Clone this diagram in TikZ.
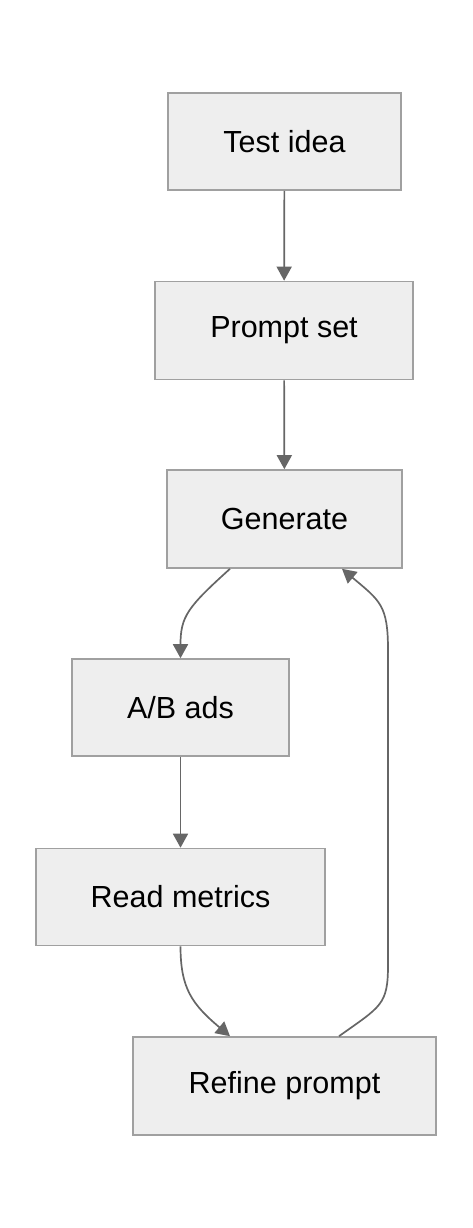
\documentclass[tikz,border=0pt]{standalone}
\usepackage{fontspec}
\setmainfont{Liberation Sans}
\usetikzlibrary{arrows.meta}
\definecolor{boxfill}{HTML}{EEEEEE}
\definecolor{boxline}{HTML}{A0A0A0}
\definecolor{arrcol}{HTML}{666666}
\tikzset{
  box/.style={draw=boxline, fill=boxfill, line width=1.6pt, rectangle, inner sep=0pt,
    font=\fontsize{30.5}{35}\selectfont, text=black},
  arr/.style={draw=arrcol, line width=1.7pt, -{Triangle[length=14pt,width=15pt]}}
}
\begin{document}
\begin{tikzpicture}[x=1pt,y=-1pt]
\useasboundingbox (0,0) rectangle (472,1228);
\node[box, minimum width=233pt, minimum height=97pt] (test) at (284.5,141.5) {Test idea};
\node[box, minimum width=258pt, minimum height=98pt] (prompt) at (284,330.5) {Prompt set};
\node[box, minimum width=235pt, minimum height=98pt] (gen) at (284.5,519) {Generate};
\node[box, minimum width=217pt, minimum height=97pt] (ab) at (180.5,707.5) {A/B ads};
\node[box, minimum width=289pt, minimum height=97pt] (read) at (180.5,897) {Read metrics};
\node[box, minimum width=303pt, minimum height=98pt] (ref) at (284.5,1086) {Refine prompt};
\coordinate (r1) at (388,965);
\coordinate (r2) at (388,650);
\draw[arr] (test) -- (prompt);
\draw[arr] (prompt) -- (gen);
\draw[arr] ([xshift=-54.5pt]gen.south) .. controls +(-42,38) and +(0,-42) .. (ab.north);
\draw[arr] (ab) -- (read);
\draw[arr] (read.south) .. controls +(0,42) and +(-38,-32) .. ([xshift=-54.5pt]ref.north);
\draw[arr] ([xshift=54.5pt]ref.north) .. controls +(42,-30) and +(0,40) .. (r1) -- (r2) .. controls +(0,-45) and +(38,32) .. ([xshift=57.5pt]gen.south);
\end{tikzpicture}
\end{document}
